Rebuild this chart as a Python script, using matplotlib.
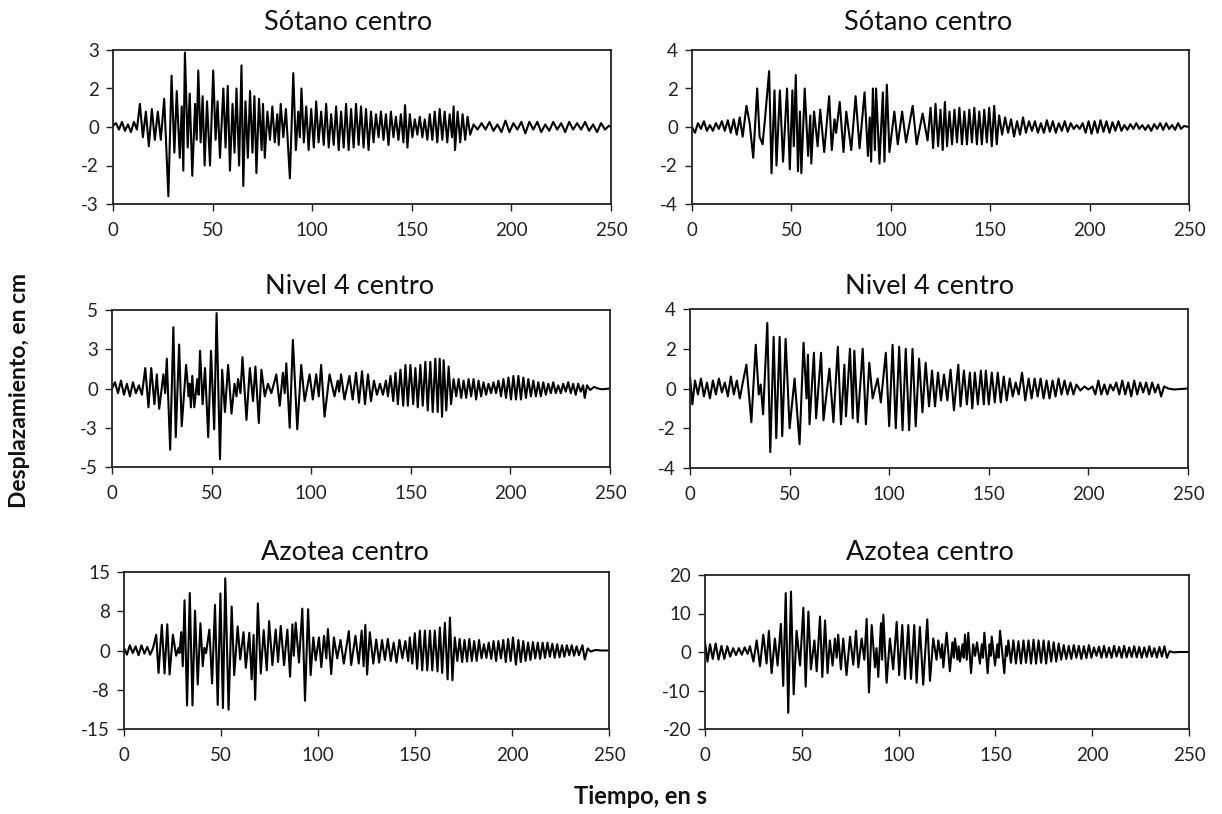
import numpy as np
import matplotlib
matplotlib.use("Agg")
import matplotlib.pyplot as plt

plt.rcParams['font.family'] = ['Lato', 'DejaVu Sans']

# (tiempo s, desplazamiento cm), extremes only
sotano_a = [(0, 0.05), (1.5, 0.15), (3, -0.1), (4.5, 0.2), (6, -0.15), (7.5, 0.1), (9, -0.2), (10.5, 0.2), (12, -0.1),
            (13.5, 0.9), (15, -0.4), (16.5, 0.6), (18, -0.75), (19.5, 0.7), (21, -0.5), (22.5, 0.6), (24, -0.5),
            (25.7, 1.1), (27.8, -2.7), (29.4, 2.0), (30.8, -1.0), (32.0, 1.4), (33.5, -1.2), (34.5, 0.8), (35.3, -1.7),
            (36.1, 2.9), (37.5, -0.8), (38.5, 1.3), (39.8, -1.9), (41.2, 0.9), (42.0, -0.5), (42.8, 2.2), (44.0, -0.6),
            (45.0, 1.2), (46.0, -1.5), (47.2, 1.0), (48.7, -1.5), (50.3, 2.2), (51.5, -0.5), (52.5, 1.0), (53.7, -1.2),
            (55.4, 1.5), (56.5, -0.8), (57.6, 1.6), (58.7, -1.7), (60.0, 0.9), (61.0, -1.0), (62.0, 1.5), (63.3, -1.5),
            (64.5, 2.4), (65.4, -2.3), (66.5, 1.0), (67.7, -1.2), (68.8, 1.4), (70.0, -1.0), (71.0, 1.2), (72.0, -1.8),
            (73.3, 1.1), (74.6, -0.9), (75.3, 0.9), (76.2, -1.2), (77.5, 0.6), (78.8, -0.5), (80.0, 0.8), (81.2, -0.6),
            (82.5, 0.5), (83.2, -0.7), (84.2, 0.9), (85.5, -0.4), (86.8, 0.7), (88.8, -2.0), (90.5, 2.1), (91.8, -0.9),
            (93.0, 0.6), (93.8, -0.4), (94.6, 1.5), (95.8, -0.6), (97.0, 0.8), (98.2, -0.9), (99.5, 0.7), (100.8, -0.8),
            (102.0, 1.0), (103.2, -0.6), (104.5, 0.6), (105.8, -0.7), (107.0, 0.9), (108.3, -0.8), (109.5, 0.5),
            (110.8, -0.7), (112.0, 0.8), (113.3, -0.9), (114.5, 0.6), (115.8, -0.8), (117.0, 0.9), (118.3, -0.9),
            (119.5, 0.7), (120.8, -0.8), (122.0, 0.9), (123.3, -0.7), (124.5, 0.8), (125.8, -0.8), (127.0, 0.7),
            (128.3, -0.9), (129.5, 0.6), (130.8, -0.6), (132.0, 0.5), (133.3, -0.4), (134.5, 0.6), (135.8, -0.5),
            (137.0, 0.5), (138.3, -0.7), (139.5, 0.6), (140.8, -0.4), (142.0, 0.4), (143.3, -0.5), (144.5, 0.5),
            (145.8, -0.6), (146.6, 0.85), (147.8, -0.8), (149.0, 0.5), (150.3, -0.4), (151.5, 0.3), (152.8, -0.3),
            (154.0, 0.4), (155.3, -0.4), (156.5, 0.3), (157.8, -0.5), (159.0, 0.5), (160.3, -0.5), (161.5, 0.6),
            (162.8, -0.6), (164.0, 0.7), (165.3, -0.5), (166.5, 0.6), (167.8, -0.6), (169.0, 0.5), (170.2, -0.4),
            (171.0, 0.8), (171.7, -0.9), (173.0, 0.6), (174.3, -0.6), (175.5, 0.5), (176.8, -0.5), (178.0, 0.4),
            (179.3, -0.3), (181, 0.1), (183, -0.1), (185, 0.15), (187, -0.1), (189, 0.2), (191, -0.15), (193, 0.1),
            (195, -0.2), (197, 0.25), (199, -0.2), (201, 0.15), (203, -0.1), (205, 0.2), (207, -0.25), (209, 0.2),
            (211, -0.1), (213, 0.2), (215, -0.2), (217, 0.1), (219, -0.15), (221, 0.2), (223, -0.1), (225, 0.15),
            (227, -0.2), (229, 0.2), (231, -0.1), (233, 0.15), (235, -0.1), (237, 0.2), (239, -0.15), (241, 0.1),
            (243, -0.2), (245, 0.15), (247, -0.1), (249, 0.05), (250, 0.0)]

sotano_b = [(0, 0.0), (1.5, -0.3), (3, 0.2), (4.5, -0.1), (6, 0.3), (7.5, -0.2), (9, 0.1), (10.5, -0.2), (12, 0.2),
            (13.5, -0.1), (15, 0.3), (16.5, -0.2), (18, 0.35), (19.5, -0.3), (21, 0.4), (22.5, -0.4), (24, 0.5),
            (25.5, -0.5), (27.4, 1.1), (29.0, 0.2), (30.8, -1.6), (32.8, 2.0), (34.0, -0.5), (35.5, -0.9), (36.7, 0.4),
            (38.8, 2.9), (40.0, -2.4), (41.5, 1.9), (42.5, -2.0), (44.2, 1.9), (45.8, -1.8), (47.8, 2.0), (49.2, -2.2),
            (50.5, 1.9), (51.2, -1.0), (52.2, 2.7), (53.3, -2.3), (54.3, 0.8), (55.0, -2.4), (56.7, 2.0), (58.4, -1.5),
            (59.5, 0.6), (60.0, -1.9), (61.4, 0.8), (63.2, -1.0), (64.5, 0.9), (66.5, -1.3), (69.0, 1.6), (70.3, -1.2),
            (71.7, 0.4), (72.5, -0.3), (74.3, 1.3), (76.2, -1.3), (77.6, 0.8), (80.1, -1.2), (82.3, 1.6), (84.3, -1.1),
            (86.8, 1.8), (88.5, -1.5), (89.4, 0.5), (90.1, -1.8), (91.0, 2.0), (92.0, -1.2), (92.6, 2.0), (94.3, -1.9),
            (96.0, 1.8), (96.8, -1.8), (98.0, 2.2), (99.3, -1.3), (101.8, 0.8), (103.5, -0.9), (105.7, 0.8),
            (107.7, -0.8), (111.0, 1.1), (113.0, -0.9), (116.0, 0.7), (118.5, -0.7), (120.0, 1.0), (121.3, -1.1),
            (122.5, 1.2), (123.8, -1.0), (125.0, 0.9), (126.1, -1.2), (127.2, 1.3), (128.3, -1.0), (129.5, 0.8),
            (130.8, -0.9), (132.0, 0.9), (133.3, -0.8), (134.5, 1.0), (135.8, -0.9), (137.0, 0.8), (138.3, -0.9),
            (139.5, 0.9), (140.8, -0.8), (142.0, 1.0), (143.3, -0.9), (144.5, 0.8), (145.8, -0.9), (147.0, 0.9),
            (148.3, -0.8), (149.5, 1.0), (150.8, -1.0), (152.0, 1.1), (153.3, -0.9), (154.5, 0.6), (156.0, -0.4),
            (157.5, 0.5), (159.0, -0.3), (160.5, 0.4), (162.0, -0.5), (163.5, 0.3), (165.0, -0.4), (166.5, 0.5),
            (168.0, -0.3), (169.5, 0.3), (171.0, -0.2), (172.5, 0.3), (174.0, -0.3), (175.5, 0.2), (177.0, -0.3),
            (178.5, 0.35), (180.0, -0.25), (181.5, 0.3), (183.0, -0.3), (184.5, 0.2), (186.0, -0.2), (187.5, 0.3),
            (189.0, -0.25), (190.5, 0.2), (192.0, -0.1), (193.5, 0.1), (195.0, -0.1), (196.5, 0.2), (198.0, -0.3),
            (199.5, 0.3), (201.0, -0.35), (202.5, 0.3), (204.0, -0.3), (205.5, 0.35), (207.0, -0.25), (208.5, 0.3),
            (210.0, -0.3), (211.5, 0.25), (213.0, -0.2), (214.5, 0.3), (216.0, -0.2), (217.5, 0.1), (219.0, -0.15),
            (220.5, 0.15), (222.0, -0.1), (223.5, 0.2), (225.0, -0.1), (226.5, 0.1), (228.0, -0.15), (229.5, 0.1),
            (231.0, -0.2), (232.5, 0.15), (234.0, -0.1), (235.5, 0.2), (237.0, -0.15), (238.5, 0.2), (240.0, -0.1),
            (241.5, 0.1), (243.0, -0.15), (244.5, 0.2), (246.0, -0.1), (247.5, 0.05), (250, 0.0)]

nivel4_a = [(0, 0.0), (1.5, 0.4), (3, -0.3), (4.5, 0.5), (6, -0.4), (7.5, 0.3), (9, -0.5), (10.5, 0.4), (12, -0.3),
            (13.5, 0.2), (15, -0.4), (16.7, 1.3), (18.3, -1.2), (19.7, 1.3), (21.3, -1.0), (22.5, 0.9), (23.7, -1.3),
            (25.8, 0.9), (26.7, -0.3), (27.5, 1.9), (29.2, -3.9), (30.8, 3.9), (32.0, -3.1), (33.7, 2.8), (35.0, -2.4),
            (37.2, 1.5), (38.5, -0.5), (39.0, 0.3), (39.6, -1.2), (40.3, 0.8), (41.3, -1.2), (42.8, 0.6), (43.5, -0.4),
            (44.2, 2.4), (45.5, -1.0), (46.7, 1.3), (48.3, -3.1), (49.7, 2.4), (51.3, -2.6), (52.5, 4.8), (54.2, -4.5),
            (55.3, 1.2), (56.7, -1.5), (58.3, 1.5), (60.0, -1.6), (61.5, 0.3), (62.5, -0.5), (63.3, 0.6), (64.5, -0.3),
            (65.5, 2.0), (67.5, -2.0), (69.2, 1.3), (70.8, -0.8), (72.0, 1.4), (73.7, -2.2), (75.0, 1.2), (76.7, -0.5),
            (78.3, 0.3), (80.0, -0.3), (82.5, 0.9), (84.2, -1.1), (85.8, 1.0), (86.7, -0.3), (87.5, 1.6), (89.2, -2.5),
            (90.8, 3.1), (93.0, -2.6), (95.0, 1.5), (96.7, -0.8), (99.2, 0.9), (100.8, -0.7), (102.5, 0.9),
            (103.8, -0.5), (105.0, 1.5), (106.7, -1.8), (109.2, 0.9), (111.7, -0.5), (113.3, 0.5), (114.0, -0.2),
            (115.0, 0.9), (116.7, -0.7), (119.2, 0.8), (120.8, -0.7), (122.5, 1.0), (124.0, -0.9), (125.5, 1.1),
            (127.0, -1.0), (128.5, 0.9), (130.0, -0.8), (131.5, 0.5), (133.0, -0.4), (134.5, 0.3), (136.0, -0.4),
            (137.5, 0.5), (138.5, -0.5), (139.8, 0.8), (141.2, -0.8), (142.3, 1.0), (143.5, -1.0), (144.8, 1.2),
            (146.2, -1.1), (147.3, 1.5), (148.5, -1.1), (149.8, 1.5), (151.2, -1.0), (152.3, 1.3), (153.5, -1.2),
            (154.8, 1.5), (156.0, -1.1), (157.3, 1.7), (158.5, -1.4), (159.8, 1.7), (161.0, -1.5), (162.3, 1.9),
            (163.5, -1.5), (164.5, 1.9), (165.7, -1.8), (166.5, 1.8), (167.8, -1.4), (169.0, 1.4), (170.2, -1.0),
            (171.5, 0.6), (172.8, -0.5), (174.0, 0.6), (175.3, -0.6), (176.5, 0.5), (177.8, -0.6), (179.0, 0.6),
            (180.3, -0.5), (181.5, 0.6), (182.8, -0.7), (184.0, 0.5), (185.3, -0.5), (186.5, 0.4), (187.8, -0.4),
            (189.0, 0.3), (190.3, -0.3), (191.5, 0.4), (192.8, -0.3), (194.0, 0.5), (195.3, -0.5), (196.5, 0.6),
            (197.8, -0.6), (199.0, 0.7), (200.3, -0.7), (201.5, 0.8), (202.8, -0.7), (204.0, 0.8), (205.3, -0.7),
            (206.5, 0.7), (207.8, -0.6), (209.0, 0.6), (210.3, -0.5), (211.5, 0.5), (212.8, -0.5), (214.0, 0.4),
            (215.3, -0.5), (216.5, 0.4), (217.8, -0.4), (219.0, 0.3), (220.3, -0.3), (221.5, 0.4), (222.8, -0.3),
            (224.0, 0.2), (225.3, -0.3), (226.5, 0.3), (227.8, -0.2), (229.0, 0.4), (230.3, -0.3), (231.5, 0.3),
            (232.8, -0.4), (234.0, 0.3), (235.3, -0.2), (236.5, 0.2), (237.3, -0.6), (238.5, 0.2), (240.0, -0.1),
            (242.0, 0.1), (244.0, 0.0), (246.0, -0.05), (250, 0.0)]

nivel4_b = [(0, 0.6), (1.2, -0.8), (2.5, 0.4), (4, -0.3), (5.5, 0.5), (7, -0.4), (8.5, 0.3), (10, -0.5), (11.5, 0.4),
            (13, -0.3), (14.5, 0.5), (16, -0.2), (17.5, 0.3), (19, -0.4), (20.5, 0.6), (22, -0.3), (23.5, 0.4),
            (25, -0.5), (26.5, 0.3), (28.3, 1.2), (30.8, -1.7), (33.0, 2.2), (34.5, -0.3), (35.5, 0.2), (36.7, -1.3),
            (38.8, 3.3), (40.3, -3.2), (42.0, 2.6), (43.3, -2.5), (45.0, 2.6), (46.3, -2.4), (48.0, 2.5), (50.0, -2.0),
            (52.5, 0.5), (55.0, -2.8), (57.0, 2.3), (58.5, -0.5), (59.2, 1.7), (60.0, -1.8), (62.2, 1.8), (63.3, -1.5),
            (65.8, 1.8), (67.0, -1.6), (70.0, 1.0), (72.0, -1.7), (74.2, 2.1), (75.8, -1.8), (77.5, 1.2), (78.3, -1.4),
            (80.3, 2.0), (81.7, -1.5), (82.5, 1.9), (84.2, -1.7), (86.7, 2.0), (88.3, -1.8), (90.0, 1.3), (91.7, -0.5),
            (94.2, 0.5), (95.8, -0.7), (98.3, 1.8), (100.0, -1.9), (101.7, 2.2), (103.3, -2.0), (105.0, 2.1),
            (106.7, -2.1), (108.3, 2.0), (110.0, -2.1), (111.7, 2.0), (113.3, -1.9), (115.0, 1.5), (116.7, -1.2),
            (118.3, 1.3), (120.0, -0.9), (121.5, 0.9), (123.0, -0.9), (124.5, 0.8), (126.0, -0.6), (127.5, 0.7),
            (129.2, -0.6), (130.8, 0.95), (132.5, -1.1), (134.7, 1.2), (135.8, -0.9), (137.5, 0.9), (139.0, -0.8),
            (140.5, 0.8), (141.7, -1.0), (143.0, 0.8), (144.5, -0.8), (146.0, 0.9), (147.5, -0.8), (148.5, 0.9),
            (150.0, -0.8), (151.5, 0.8), (153.0, -0.7), (154.5, 0.8), (156.0, -0.7), (157.5, 0.6), (159.0, -0.6),
            (160.5, 0.5), (162.0, -0.4), (163.5, 0.3), (165.0, -0.3), (166.7, 0.8), (168.3, -0.6), (170.0, 0.5),
            (171.5, -0.5), (173.0, 0.5), (174.5, -0.4), (176.0, 0.5), (177.5, -0.5), (179.0, 0.4), (180.5, -0.5),
            (182.0, 0.4), (183.5, -0.4), (185.0, 0.5), (186.5, -0.3), (188.0, 0.4), (189.5, -0.3), (191.0, 0.3),
            (192.5, -0.3), (194.0, 0.2), (196.0, -0.1), (198.0, 0.1), (200.0, -0.05), (202.0, 0.1), (203.5, -0.3),
            (205.0, 0.4), (206.5, -0.3), (208.0, 0.2), (209.5, -0.3), (211.0, 0.2), (212.5, -0.1), (214.0, 0.3),
            (215.5, -0.3), (217.0, 0.4), (218.5, -0.3), (220.0, 0.3), (221.5, -0.4), (223.0, 0.4), (224.5, -0.3),
            (226.0, 0.3), (227.5, -0.2), (229.0, 0.3), (230.5, -0.3), (232.0, 0.3), (233.5, -0.2), (235.0, 0.2),
            (236.5, -0.4), (238.0, 0.1), (240.0, 0.0), (243.0, -0.05), (250, 0.0)]

azotea_a = [(0, 0.5), (1.5, -0.8), (3, 1.0), (4.5, -0.5), (6, 0.8), (7.5, -0.9), (9, 1.0), (10.5, -0.6), (12, 0.7),
            (13.5, -0.8), (15, 0.5), (16.6, 3.0), (17.8, -4.3), (19.5, 4.9), (20.9, -4.4), (22.3, 5.0), (23.5, -4.6),
            (25.2, 3.0), (26.9, -1.0), (28.1, 0.5), (28.6, -0.5), (29.5, 3.5), (30.3, -3.0), (31.2, 9.6), (32.5, -10.5),
            (33.9, 11.0), (35.3, -10.5), (36.6, 7.6), (38.0, -6.5), (39.4, 5.2), (40.6, -3.0), (41.4, 0.5),
            (42.3, -0.5), (44.0, 4.0), (45.4, -6.3), (46.9, 8.7), (48.3, -10.4), (49.7, 10.9), (51.0, -11.0),
            (52.2, 13.8), (53.9, -11.3), (55.5, 8.4), (56.8, -4.7), (58.6, 4.6), (59.9, -1.7), (61.6, 3.5),
            (62.8, -3.3), (64.6, 3.4), (65.8, -5.5), (66.8, 3.0), (67.6, -9.4), (69.0, 9.0), (70.5, -4.4), (72.0, 3.9),
            (73.6, -3.8), (74.8, 5.6), (76.5, -2.8), (78.2, 4.0), (79.4, -2.2), (80.8, 4.7), (82.5, -2.8), (84.2, 4.0),
            (85.6, -5.0), (86.8, 5.0), (87.5, -1.0), (88.5, 5.3), (90.2, -2.3), (91.9, 8.0), (93.3, -9.6), (94.9, 7.9),
            (96.2, -4.7), (97.6, 2.5), (98.8, -1.9), (100.5, 2.5), (101.7, -3.2), (103.1, 2.8), (104.3, -1.5),
            (105.1, 4.1), (106.8, -4.5), (108.2, 2.5), (109.9, -1.5), (111.6, 2.0), (113.3, -2.5), (115.9, 3.7),
            (117.1, -2.8), (119.3, 2.8), (121.0, -2.5), (122.5, 3.8), (123.5, -3.0), (124.4, 4.9), (125.3, -4.6),
            (126.7, 3.5), (128.5, -2.5), (130.0, 2.1), (131.5, -2.3), (133.0, 2.0), (134.5, -1.8), (136.0, 2.2),
            (137.5, -2.0), (139.0, 1.5), (140.5, -2.3), (142.0, 2.0), (143.5, -1.5), (145.0, 1.8), (146.5, -2.0),
            (147.3, 2.5), (148.6, -2.5), (149.9, 3.3), (151.1, -3.5), (152.5, 3.8), (153.7, -3.8), (155.1, 3.8),
            (156.3, -3.8), (157.7, 3.8), (158.9, -3.8), (160.2, 3.8), (161.6, -4.0), (162.8, 4.4), (164.0, -4.3),
            (165.4, 5.3), (166.8, -5.5), (168.0, 6.3), (169.3, -5.7), (170.5, 2.5), (171.8, -2.0), (173.0, 2.2),
            (174.3, -2.2), (175.5, 2.0), (176.8, -2.1), (178.0, 2.2), (179.3, -2.0), (180.5, 1.8), (181.8, -2.0),
            (183.0, 2.0), (184.3, -1.5), (185.5, 1.2), (186.8, -1.4), (188.0, 1.5), (189.3, -1.6), (190.5, 1.8),
            (191.8, -2.0), (193.0, 1.8), (194.3, -1.5), (195.5, 2.0), (196.8, -2.2), (198.0, 2.2), (199.3, -2.0),
            (200.5, 2.5), (202.0, -2.7), (203.3, 2.0), (204.5, -2.2), (205.8, 1.8), (207.0, -2.0), (208.3, 1.5),
            (209.5, -1.8), (210.8, 1.6), (212.0, -1.5), (213.3, 1.5), (214.5, -1.6), (215.8, 1.5), (217.0, -1.4),
            (218.3, 1.5), (219.5, -1.2), (220.8, 1.3), (222.0, -1.4), (223.3, 1.2), (224.5, -1.3), (225.8, 1.0),
            (227.0, -1.2), (228.3, 1.0), (229.5, -0.9), (230.8, 1.0), (232.0, -1.0), (233.3, 0.8), (234.5, -0.9),
            (236.3, 1.0), (237.5, -1.7), (239.0, 0.4), (240.5, -0.2), (243.0, 0.1), (246.0, 0.0), (250, 0.0)]

azotea_b = [(0, 2.5), (1.3, -2.5), (2.6, 2.0), (4, -1.8), (5.5, 2.2), (7, -2.0), (8.5, 1.6), (10, -1.8), (11.5, 1.5),
            (13, -1.2), (14.5, 1.0), (16, -0.8), (17.5, 1.0), (19, -0.7), (20.5, 1.2), (22, -0.5), (23.2, 1.5),
            (25.0, -2.5), (26.7, 3.0), (28.4, -3.7), (30.1, 4.5), (31.8, -3.0), (33.0, 5.5), (34.4, -5.5),
            (36.1, 3.5), (37.5, -3.5), (39.2, 7.3), (40.4, -8.8), (41.7, 15.3), (43.0, -15.8), (44.4, 15.7),
            (45.8, -11.0), (47.3, 5.5), (49.1, -3.5), (50.8, 11.5), (52.0, -9.0), (53.4, 10.5), (54.7, -4.5),
            (56.5, 3.0), (57.7, -5.0), (59.4, 9.2), (60.6, -6.5), (62.0, 8.2), (63.3, -5.5), (64.5, 3.0),
            (65.9, -3.5), (67.1, 3.5), (68.0, -1.5), (68.8, 4.5), (70.2, -4.5), (71.4, 3.5), (73.1, -6.0),
            (74.9, 4.0), (76.6, -3.3), (78.0, 5.5), (79.2, -4.0), (80.9, 3.5), (82.3, -2.0), (83.5, 8.6),
            (84.7, -10.5), (86.1, 7.0), (87.8, -4.0), (88.6, 1.0), (89.5, -6.5), (90.9, 7.5), (91.5, -2.0),
            (92.1, 9.7), (93.8, -8.0), (95.5, 3.5), (97.2, -4.5), (99.0, 7.8), (100.3, -6.0), (101.9, 7.0),
            (103.3, -7.0), (105.0, 7.0), (106.4, -7.0), (108.1, 7.0), (109.3, -8.0), (111.0, 6.5), (112.7, -8.5),
            (114.8, 8.5), (116.2, -7.5), (117.9, 3.5), (119.6, -2.0), (120.5, 3.0), (121.8, -1.5), (122.5, 2.0),
            (123.1, -4.0), (124.8, 5.0), (126.5, -5.0), (127.8, 2.5), (128.5, -1.5), (129.1, 3.5), (130.4, -2.0),
            (131.0, 1.5), (131.7, -2.5), (133.0, 2.0), (133.6, -1.5), (134.3, 4.5), (135.2, -2.0), (136.0, 5.0),
            (137.4, -5.5), (138.5, 2.0), (139.5, -1.0), (140.5, 2.5), (142.0, -3.0), (143.0, 2.0), (143.6, -1.5),
            (144.3, 5.0), (146.0, -5.5), (147.0, 2.0), (147.6, -1.0), (148.1, 4.0), (149.8, -3.5), (151.0, 2.0),
            (151.6, -1.5), (152.4, 5.5), (154.6, -5.5), (155.5, 1.5), (156.0, -1.0), (156.7, 3.0), (158.0, -2.8),
            (159.3, 3.0), (160.6, -3.0), (161.9, 2.8), (163.2, -3.0), (164.5, 3.0), (165.8, -2.8), (167.1, 3.0),
            (168.4, -3.0), (169.7, 3.2), (171.0, -3.0), (172.3, 3.0), (173.6, -2.8), (174.9, 3.0), (176.2, -3.0),
            (177.5, 2.8), (178.8, -2.5), (180.1, 2.5), (181.4, -2.5), (182.7, 2.2), (184.0, -2.0), (185.3, 1.8),
            (186.6, -1.8), (187.9, 1.6), (189.2, -1.8), (190.5, 1.8), (191.8, -1.5), (193.1, 1.6), (194.4, -1.8),
            (195.7, 1.5), (197.0, -1.6), (198.3, 1.8), (199.6, -1.5), (200.9, 1.2), (202.2, -1.0), (203.5, 1.4),
            (204.8, -1.5), (206.1, 1.6), (207.4, -1.4), (208.7, 1.2), (210.0, -1.5), (211.3, 1.6), (212.6, -1.2),
            (213.9, 1.3), (215.2, -1.5), (216.5, 1.6), (217.8, -1.4), (219.1, 1.2), (220.4, -1.3), (221.7, 1.5),
            (223.0, -1.4), (224.3, 1.3), (225.6, -1.5), (226.9, 1.2), (228.2, -1.3), (229.5, 1.5), (230.8, -1.2),
            (232.1, 1.0), (233.4, -1.4), (234.7, 1.3), (236.0, -1.2), (237.3, 1.5), (238.6, -1.5), (240.0, 0.2),
            (242.0, -0.1), (245.0, 0.0), (250, 0.0)]

titles = ["Sótano centro", "Sótano centro", "Nivel 4 centro", "Nivel 4 centro", "Azotea centro", "Azotea centro"]
series = [sotano_a, sotano_b, nivel4_a, nivel4_b, azotea_a, azotea_b]
y_limits = [3, 4, 5, 4, 15, 20]
y_ticklabels = [["-3", "-2", "0", "2", "3"],
                ["-4", "-2", "0", "2", "4"],
                ["-5", "-3", "0", "3", "5"],
                ["-4", "-2", "0", "2", "4"],
                ["-15", "-8", "0", "8", "15"],
                ["-20", "-10", "0", "10", "20"]]
x_ticks = [0, 50, 100, 150, 200, 250]

W, H = 1222, 814
# axes boxes in pixels: left, top, right, bottom
boxes = [(113, 50, 611, 204), (692, 50, 1189, 204),
         (112, 310, 610, 467), (690, 309, 1188, 468),
         (124, 572, 609, 729), (705, 575, 1189, 729)]
title_pos = [(348, 22), (928, 22), (350, 287), (930, 287), (345, 552), (930, 552)]

fig = plt.figure(figsize=(W / 100, H / 100), dpi=100)

for i in range(6):
    l, t, r, b = boxes[i]
    ax = fig.add_axes([l / W, 1 - b / H, (r - l) / W, (b - t) / H])
    pts = np.array(series[i])
    ax.plot(pts[:, 0], pts[:, 1], color='black', lw=1.5)
    lim = y_limits[i]
    ax.set_xlim(0, 250)
    ax.set_ylim(-lim, lim)
    ax.set_xticks(x_ticks)
    ax.set_yticks(np.linspace(-lim, lim, 5))
    ax.set_yticklabels(y_ticklabels[i])
    ax.tick_params(direction='out', length=5, width=1, labelsize=13.5, colors='#222222', pad=5)
    ax.tick_params(axis='x', pad=8)
    for s in ax.spines.values():
        s.set_linewidth(1.3)
        s.set_color('#222222')
    tx, ty = title_pos[i]
    fig.text(tx / W, 1 - ty / H, titles[i], ha='center', va='center', fontsize=19.5, color='#111111')

fig.text(20 / W, 1 - 390 / H, "Desplazamiento, en cm", rotation=90, ha='center', va='center',
         fontsize=16.5, fontweight='bold', color='#111111')
fig.text(640 / W, 1 - 796 / H, "Tiempo, en s", ha='center', va='center', fontsize=17, fontweight='bold',
         color='#111111')

fig.savefig("out.png", dpi=100)
